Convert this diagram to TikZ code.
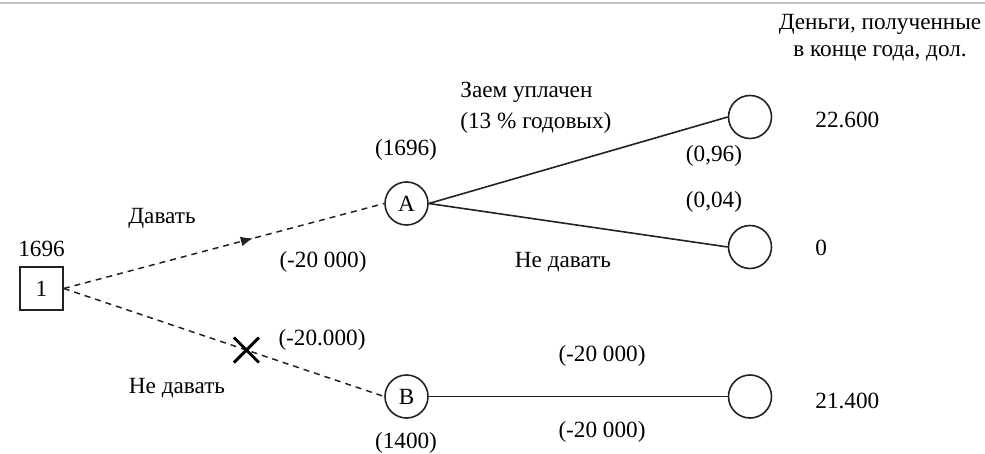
\documentclass[tikz,border=0pt]{standalone}
\usepackage{fontspec}
\setmainfont{Liberation Serif}
\usetikzlibrary{arrows.meta, calc, decorations.markings, shapes.misc}
\definecolor{Ink}  {HTML}{222222}
\definecolor{Rule} {HTML}{C0C0C0}
\tikzset{
  evt/.style={
    circle, draw=Ink, line width=0.8pt,
    minimum size=21.5pt, inner sep=0pt,
  },
  dcs/.style={
    rectangle, draw=Ink, line width=0.8pt,
    minimum size=21.5pt, inner sep=0pt,
  },
  txt/.style={inner sep=0pt, text=black},
  brn/.style={line width=0.8pt, draw=Ink},
  dbrn/.style={line width=0.75pt, draw=Ink, dash pattern=on 3pt off 2.5pt},
  midarr/.style={
    postaction={decorate},
    decoration={markings, mark=at position #1 with {\arrow{Latex[length=6pt,width=5pt]}}},
  },
  cut/.style={
    cross out, draw=black, line width=1.5pt,
    minimum size=11pt, inner sep=0pt,
  },
}

\begin{document}
\begin{tikzpicture}[x=0.5pt,y=-0.5pt,font=\fontsize{11.6}{13.5}\selectfont]
        \useasboundingbox (0,0) rectangle (985,454);
        \draw[Rule, line width=1pt] (0,3) -- (985,3);
        % tree
        \node[dcs] (d1) at (41.5,288.5) {1};
        \node[evt] (A)  at (406.5,203.5) {A};
        \node[evt] (B)  at (406.5,396.5) {B};
        \node[evt] (u1) at (750,117) {};
        \node[evt] (u2) at (750,247) {};
        \node[evt] (u3) at (750,396.5) {};
        \draw[dbrn, midarr=0.59] (d1.east) -- (A.west);
        \draw[dbrn] (d1.east) -- (B.west);
        \node[cut] (cx) at ($(d1.east)!0.57!(B.west)$) {};
        \draw[brn] (A.east) -- (u1.west);
        \draw[brn] (A.east) -- (u2.west);
        \draw[brn] (B.east) -- (u3.west);
        % labels
        \node[txt] (v0)   at (41.5,249) {1696};
        \node[txt] (give) at (162,218) {Давать};
        \node[txt] (vA)   at (406,150) {(1696)};
        \node[txt] (cA)   at (323,262) {(-20 000)};
        \node[txt, anchor=west, align=left, font=\fontsize{11.6}{15.5}\selectfont] (paid) at (460,108) {Заем уплачен\\(13 \% годовых)};
        \node[txt] (p1)   at (714,156) {(0,96)};
        \node[txt] (p2)   at (714,202) {(0,04)};
        \node[txt] (nogA) at (563,262) {Не давать};
        \node[txt, anchor=west] (r1) at (815,120) {22.600};
        \node[txt, anchor=west] (r2) at (815,248) {0};
        \node[txt, anchor=west] (r3) at (815,401) {21.400};
        \node[txt] (cB)   at (322,340) {(-20.000)};
        \node[txt] (nogB) at (177,388) {Не давать};
        \node[txt] (vB)   at (406,443) {(1400)};
        \node[txt] (cB1)  at (602,356) {(-20 000)};
        \node[txt] (cB2)  at (602,432) {(-20 000)};
        \node[txt, align=center] (head) at (880,37.5) {Деньги, полученные\\в конце года, дол.};
      \end{tikzpicture}
\end{document}
